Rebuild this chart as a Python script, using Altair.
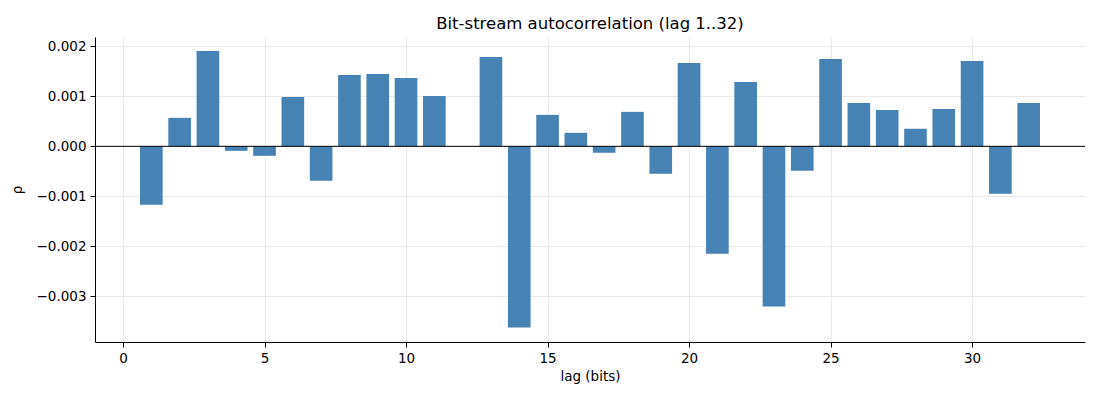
import altair as alt
import pandas as pd

# autocorrelation per lag
lags = list(range(1, 33))
rho = [
    -0.00117, 0.00057, 0.00191, -0.00009, -0.00019, 0.00099, -0.00069, 0.00143,
    0.00145, 0.00137, 0.00101, 0.0, 0.00179, -0.00363, 0.00063, 0.00027,
    -0.00013, 0.00069, -0.00055, 0.00167, -0.00215, 0.00129, -0.00321, -0.00049,
    0.00175, 0.00087, 0.00073, 0.00035, 0.00075, 0.00171, -0.00095, 0.00087,
]
x_ticks = [0, 5, 10, 15, 20, 25, 30]
y_ticks = [-0.003, -0.002, -0.001, 0.0, 0.001, 0.002]

source = pd.DataFrame({"lag": lags, "rho": rho})
FONT = "DejaVu Sans"

x_scale = alt.Scale(domain=[-0.99, 33.99], nice=False, zero=False)
y_scale = alt.Scale(domain=[-0.00392, 0.00219], nice=False, zero=False)

bars = (
    alt.Chart(source)
    .transform_calculate(x0="datum.lag - 0.4", x1="datum.lag + 0.4")
    .mark_bar(color="#4682b4")
    .encode(
        alt.X(
            "x0:Q",
            scale=x_scale,
            axis=alt.Axis(values=x_ticks, title="lag (bits)", format="d"),
        ),
        alt.X2("x1:Q"),
        alt.Y(
            "rho:Q",
            scale=y_scale,
            axis=alt.Axis(values=y_ticks, title="ρ", format=".3f"),
        ),
        alt.Y2(datum=0),
    )
)

zero_line = (
    alt.Chart(pd.DataFrame({"y": [0.0]}))
    .mark_rule(color="black", strokeWidth=1)
    .encode(y=alt.Y("y:Q", scale=y_scale))
)

chart = (
    alt.layer(bars, zero_line)
    .properties(
        width=990,
        height=305,
        title="Bit-stream autocorrelation (lag 1..32)",
        autosize=alt.AutoSizeParams(type="none"),
        padding={"left": 87, "top": 29, "right": 7, "bottom": 50},
    )
    .configure_view(stroke=None)
    .configure_title(font=FONT, fontSize=16.5, fontWeight="normal", color="black", offset=5)
    .configure_axis(
        labelFont=FONT,
        titleFont=FONT,
        labelFontSize=13.5,
        titleFontSize=13.5,
        titleFontWeight="normal",
        labelColor="black",
        titleColor="black",
        domainColor="black",
        tickColor="black",
        tickSize=5,
        gridColor="#e3e3e3",
        gridWidth=0.8,
    )
    .configure_axisX(titlePadding=5, labelPadding=4)
    .configure_axisY(titlePadding=12, labelPadding=4)
)

chart.save("out.html", embed_options={"renderer": "svg", "actions": False})
